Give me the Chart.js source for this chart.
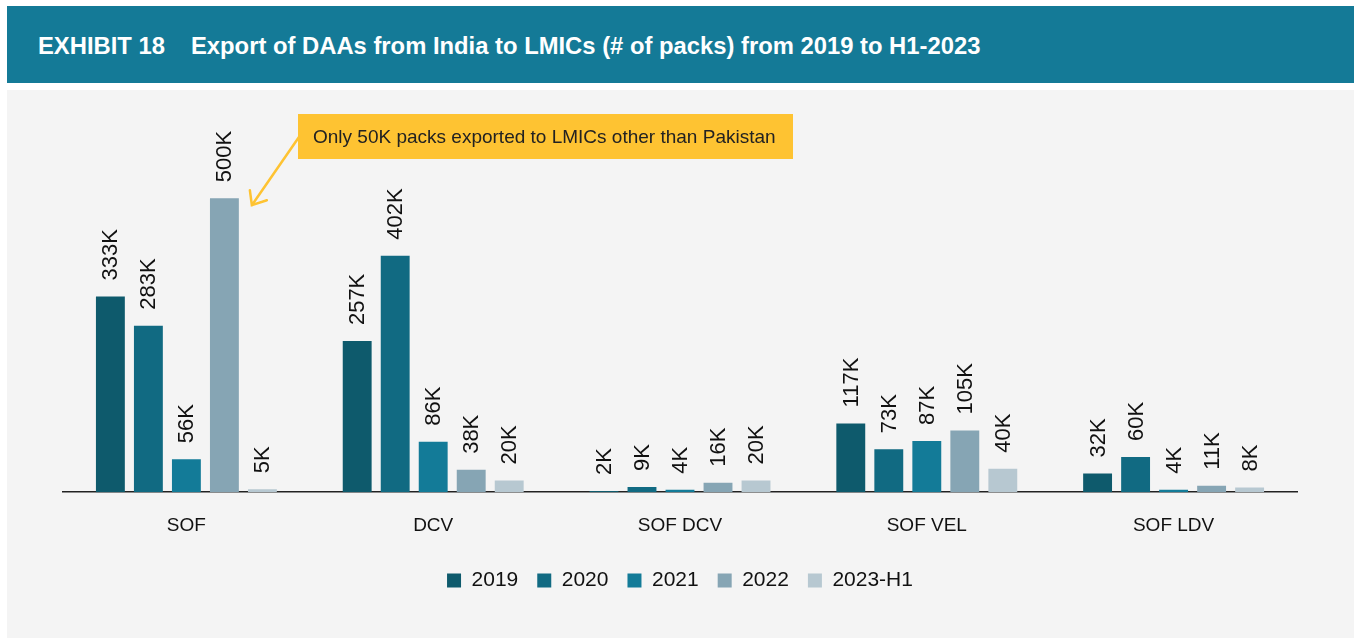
<!DOCTYPE html>
<html>
<head>
<meta charset="utf-8">
<script src="https://cdn.jsdelivr.net/npm/chart.js@4"></script>
<style>
  html, body { margin: 0; padding: 0; background: #fff; }
  body { width: 1359px; height: 638px; position: relative; overflow: hidden; font-family: "Liberation Sans", Arial, sans-serif; }
  #band { position: absolute; left: 7px; top: 6px; width: 1347px; height: 77px; background: #147a97; }
  #band h1 { margin: 0; position: absolute; left: 31px; top: 0; line-height: 80px; font-size: 23.8px; font-weight: bold; color: #fff; white-space: nowrap; }
  #band h1 .num { margin-right: 26px; }
  #panel { position: absolute; left: 7px; top: 90px; width: 1347px; height: 548px; background: #f4f4f4; }
</style>
</head>
<body>
<div id="band"><h1><span class="num">EXHIBIT 18</span>Export of DAAs from India to LMICs (# of packs) from 2019 to H1-2023</h1></div>
<div id="panel"><canvas id="c" width="1347" height="548"></canvas></div>
<script>
  // data (thousands of packs)
  const categories = ["SOF", "DCV", "SOF DCV", "SOF VEL", "SOF LDV"];
  const seriesNames = ["2019", "2020", "2021", "2022", "2023-H1"];
  const v2019 = [333, 257, 2, 117, 32];
  const v2020 = [283, 402, 9, 73, 60];
  const v2021 = [56, 86, 4, 87, 4];
  const v2022 = [500, 38, 16, 105, 11];
  const v2023h1 = [5, 20, 20, 40, 8];
  const colors = ["#0e5a6c", "#116a82", "#137b98", "#86a5b4", "#b7c8d1"];
  const note = "Only 50K packs exported to LMICs other than Pakistan";

  const values = [v2019, v2020, v2021, v2022, v2023h1];

  // rotated value labels above bars
  const barLabels = {
    id: "barLabels",
    afterDatasetsDraw(chart) {
      const ctx = chart.ctx;
      ctx.save();
      ctx.fillStyle = "#111";
      ctx.font = '22px "Liberation Sans", Arial, sans-serif';
      ctx.textAlign = "left";
      ctx.textBaseline = "middle";
      chart.data.datasets.forEach((ds, i) => {
        chart.getDatasetMeta(i).data.forEach((bar, j) => {
          ctx.save();
          ctx.translate(bar.x, bar.y - 16);
          ctx.rotate(-Math.PI / 2);
          ctx.fillText(ds.data[j] + "K", 0, 1);
          ctx.restore();
        });
      });
      ctx.restore();
    },
  };

  // yellow callout pointing at the 2022 SOF bar
  const callout = {
    id: "callout",
    afterDraw(chart) {
      const ctx = chart.ctx;
      const bar = chart.getDatasetMeta(3).data[0];
      const tipX = bar.x + bar.width / 2 + 13, tipY = bar.y + 7;
      const bx = 291, by = 24, bw = 495, bh = 45;
      ctx.save();
      ctx.fillStyle = "#fec332";
      ctx.fillRect(bx, by, bw, bh);
      ctx.fillStyle = "#222";
      ctx.font = '19px "Liberation Sans", Arial, sans-serif';
      ctx.textBaseline = "middle";
      ctx.fillText(note, bx + 15, by + bh / 2 + 1);
      ctx.strokeStyle = "#fec332";
      ctx.lineWidth = 2.5;
      ctx.lineCap = "round";
      ctx.beginPath();
      ctx.moveTo(bx + 1, by + 23);
      ctx.lineTo(tipX, tipY);
      ctx.moveTo(tipX - 2, tipY - 15);
      ctx.lineTo(tipX, tipY);
      ctx.lineTo(tipX + 15, tipY - 5);
      ctx.stroke();
      ctx.restore();
    },
  };

  new Chart(document.getElementById("c"), {
    type: "bar",
    data: {
      labels: categories,
      datasets: seriesNames.map((n, i) => ({
        label: n,
        data: values[i],
        backgroundColor: colors[i],
        borderWidth: 0,
        categoryPercentage: 0.77,
        barPercentage: 0.76,
      })),
    },
    options: {
      responsive: false,
      animation: false,
      layout: { padding: { top: 20, left: 56, right: 57, bottom: 37 } },
      plugins: {
        legend: {
          position: "bottom",
          labels: {
            boxWidth: 14, boxHeight: 14, padding: 19, color: "#111",
            font: { size: 21, family: '"Liberation Sans", Arial, sans-serif' },
          },
        },
        tooltip: { enabled: false },
      },
      scales: {
        x: {
          grid: { display: false, drawTicks: false },
          border: { display: true, color: "#222", width: 1.5 },
          ticks: { color: "#111", padding: 22, font: { size: 19, family: '"Liberation Sans", Arial, sans-serif' } },
          afterFit: (s) => { s.height -= 8; },
        },
        y: { display: false, min: 0, max: 650 },
      },
    },
    plugins: [barLabels, callout],
  });
</script>
</body>
</html>
